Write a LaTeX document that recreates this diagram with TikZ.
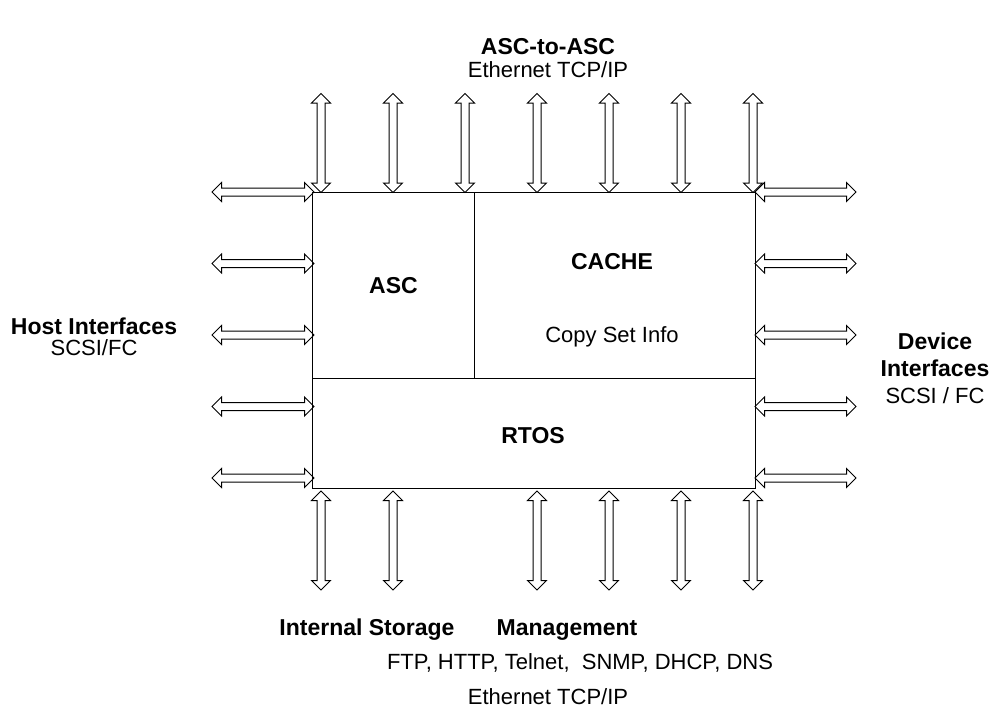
\documentclass[tikz,border=0pt]{standalone}
\usepackage{fontspec}
\setmainfont{Liberation Sans}
\usetikzlibrary{shapes.arrows}

\begin{document}
\begin{tikzpicture}[x=0.5pt,y=-0.5pt,
  link/.style={double arrow,draw,line width=0.5pt,minimum width=9pt,
    inner sep=1.75pt,double arrow head extend=2.75pt,minimum height=49.5pt},
  part/.style={draw,line width=0.5pt,anchor=north west,inner sep=0pt},
  heading/.style={font=\fontsize{11.5}{13.5}\selectfont\bfseries},
  note/.style={font=\fontsize{11}{13}\selectfont}]
  \useasboundingbox (0,0) rectangle (999,708);
  % controller blocks
  \node[part,minimum width=81pt,minimum height=93pt] (asc) at (312,192) {};
  \node[part,minimum width=140.5pt,minimum height=93pt] (cache) at (474,192) {};
  \node[part,minimum width=221.5pt,minimum height=55pt] (rtos) at (312,378) {};
  \node[heading] (asclbl) at (asc.center) {ASC};
  \node[heading] (cachelbl) at (612,262) {CACHE};
  \node[note] (copyset) at (612,337) {Copy Set Info};
  \node[heading] (rtoslbl) at (533,436) {RTOS};
  % links
  \foreach \i/\x in {1/321,2/393,3/465,4/537,5/609,6/681,7/753}
    \node[link,rotate=90] (top\i) at (\x,143) {};
  \foreach \i/\x in {1/321,2/393,3/537,4/609,5/681,6/753}
    \node[link,rotate=90] (bot\i) at (\x,540.5) {};
  \foreach \i/\y in {1/192,2/263.5,3/335,4/406.5,5/478}{
    \node[link,minimum height=51pt] (host\i) at (263,\y) {};
    \node[link,minimum height=50.5pt] (dev\i) at (805.5,\y) {};
  }
  % interface labels
  \node[heading] (peer) at (548,47) {ASC-to-ASC};
  \node[note] (peernet) at (548,70) {Ethernet TCP/IP};
  \node[heading] (host) at (94,326) {Host Interfaces};
  \node[note] (hostbus) at (94,348) {SCSI/FC};
  \node[heading,align=center] (dev) at (935,354.5) {Device\\Interfaces};
  \node[note] (devbus) at (935,396) {SCSI / FC};
  \node[heading] (store) at (367,630) {Internal Storage};
  \node[heading] (mgmt) at (567,630) {Management};
  \node[note] (proto) at (580,663) {FTP, HTTP, Telnet,\ \ SNMP, DHCP, DNS};
  \node[note,inner sep=1pt] (mgmtnet) at (548,697) {Ethernet TCP/IP};
\end{tikzpicture}
\end{document}
